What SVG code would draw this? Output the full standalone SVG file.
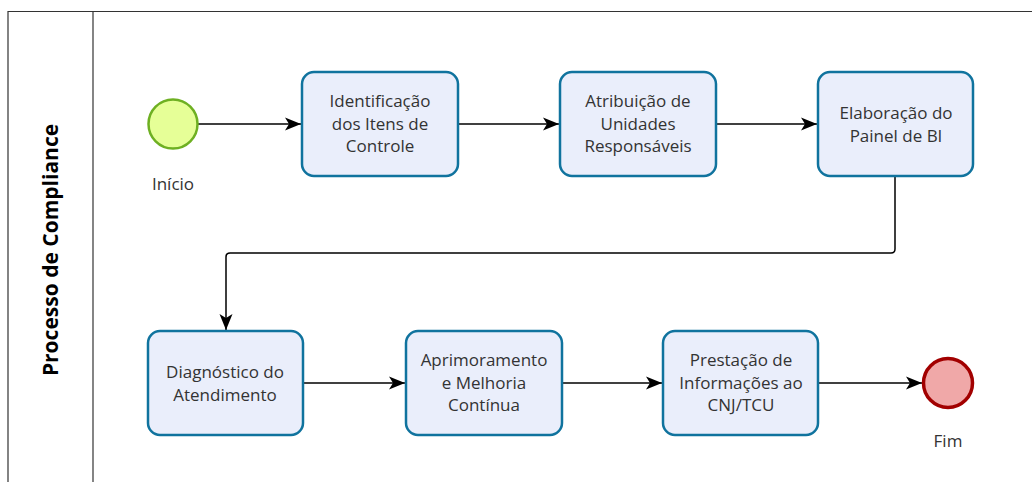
<svg xmlns="http://www.w3.org/2000/svg" width="1032" height="482" viewBox="0 0 1032 482">
<defs>
<marker id="arr" markerWidth="17" markerHeight="14" viewBox="0 0 17 14" refX="16" refY="7" orient="auto" markerUnits="userSpaceOnUse">
<path d="M0,0.5 L16,7 L0,13.5 L4,7 Z" fill="#000"/>
</marker>
<style>
.task{fill:#EAEEFB;stroke:#10739E;stroke-width:2.5}
.t{font-family:"Open Sans","Noto Sans",sans-serif;font-size:17px;fill:#333;text-anchor:middle}
.c{fill:none;stroke:#000;stroke-width:1.5}
.pool{fill:none;stroke:#333;stroke-width:1.2}
</style>
</defs>
<rect width="1032" height="482" fill="#fff"/>
<g id="pool">
<path class="pool" d="M8,490 L8,11.5 L1040,11.5"/>
<line class="pool" x1="93" y1="11.5" x2="93" y2="490"/>
<text transform="translate(58,250) rotate(-90)" font-family="'Open Sans','Noto Sans',sans-serif" font-size="21" font-weight="bold" fill="#000" text-anchor="middle">Processo de Compliance</text>
</g>
<g id="connectors">
<line class="c" x1="198" y1="124" x2="301" y2="124" marker-end="url(#arr)"/>
<line class="c" x1="459" y1="124" x2="559" y2="124" marker-end="url(#arr)"/>
<line class="c" x1="717" y1="124" x2="817" y2="124" marker-end="url(#arr)"/>
<path class="c" d="M895,176 L895,249 Q895,253 891,253 L230,253 Q226,253 226,257 L226,330" marker-end="url(#arr)"/>
<line class="c" x1="304" y1="383" x2="405" y2="383" marker-end="url(#arr)"/>
<line class="c" x1="563" y1="383" x2="662" y2="383" marker-end="url(#arr)"/>
<line class="c" x1="819" y1="383" x2="922" y2="383" marker-end="url(#arr)"/>
</g>
<g id="start">
<circle cx="173" cy="124" r="24.5" fill="#E6FF97" stroke="#6EB022" stroke-width="2.5"/>
<text class="t" x="173" y="190">Início</text>
</g>
<g id="task1">
<rect class="task" x="302" y="72" width="156" height="104" rx="12"/>
<text class="t" x="380" y="107">Identificação</text>
<text class="t" x="380" y="130">dos Itens de</text>
<text class="t" x="380" y="152">Controle</text>
</g>
<g id="task2">
<rect class="task" x="560" y="72" width="156" height="104" rx="12"/>
<text class="t" x="638" y="107">Atribuição de</text>
<text class="t" x="638" y="130">Unidades</text>
<text class="t" x="638" y="152">Responsáveis</text>
</g>
<g id="task3">
<rect class="task" x="818" y="72" width="155" height="104" rx="12"/>
<text class="t" x="896" y="119">Elaboração do</text>
<text class="t" x="896" y="142">Painel de BI</text>
</g>
<g id="task4">
<rect class="task" x="148" y="331" width="155" height="104" rx="12"/>
<text class="t" x="225" y="378">Diagnóstico do</text>
<text class="t" x="225" y="401">Atendimento</text>
</g>
<g id="task5">
<rect class="task" x="406" y="331" width="156" height="104" rx="12"/>
<text class="t" x="484" y="366">Aprimoramento</text>
<text class="t" x="484" y="389">e Melhoria</text>
<text class="t" x="484" y="411">Contínua</text>
</g>
<g id="task6">
<rect class="task" x="663" y="331" width="155" height="104" rx="12"/>
<text class="t" x="741" y="366">Prestação de</text>
<text class="t" x="741" y="389">Informações ao</text>
<text class="t" x="741" y="411">CNJ/TCU</text>
</g>
<g id="end">
<circle cx="948" cy="383" r="24.5" fill="#F0A8A8" stroke="#A20000" stroke-width="3.5"/>
<text class="t" x="948" y="447">Fim</text>
</g>
</svg>
